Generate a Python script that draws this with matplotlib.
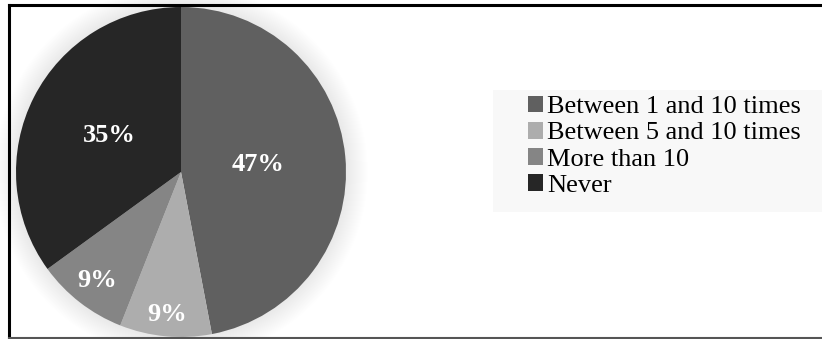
import numpy as np
import matplotlib.pyplot as plt
from matplotlib.patches import Circle, Rectangle

labels = ['Between 1 and 10 times', 'Between 5 and 10 times', 'More than 10', 'Never']
values = [47, 9, 9, 35]
colors = ['#606060', '#adadad', '#858585', '#262626']
label_r = [0.47, 0.87, 0.83, 0.49]

plt.rcParams['font.family'] = ['Liberation Serif', 'DejaVu Serif']

fig = plt.figure(figsize=(8.22, 3.39), dpi=100)
W, H = 822, 339

# pie axes: centre (181, 172) px, radius 165 px
R = 165
lim = 1.2
cx, cy = 181, 339 - 172
side = 2 * lim * R
ax = fig.add_axes([(cx - side / 2) / W, (cy - side / 2) / H, side / W, side / H])
ax.set_aspect('equal')
ax.axis('off')

# soft glow behind the pie
for i in range(22):
    ax.add_patch(Circle((0, 0), 1 + 0.006 * (i + 1), color='#000000', alpha=0.005, lw=0, zorder=0))

wedges, _ = ax.pie(values, colors=colors, startangle=90, counterclock=False,
                   radius=1, wedgeprops=dict(linewidth=0))
for w, v, r in zip(wedges, values, label_r):
    ang = np.deg2rad((w.theta1 + w.theta2) / 2)
    ax.text(r * np.cos(ang), r * np.sin(ang), f'{v}%', color='white', fontsize=19,
            fontweight='bold', ha='center', va='center')
ax.set_xlim(-lim, lim)
ax.set_ylim(-lim, lim)

# legend background
fig.patches.append(Rectangle((493 / W, 1 - 212 / H), (W - 493) / W, 122 / H,
                             transform=fig.transFigure, facecolor='#f8f8f8', edgecolor='none', zorder=0))
leg = fig.legend(wedges, labels, loc='upper left', bbox_to_anchor=(525 / W, 1 - 93 / H),
                 frameon=False, fontsize=19, handlelength=0.6, handleheight=0.6,
                 handletextpad=0.15, labelspacing=0.13, borderaxespad=0, borderpad=0.1)

# outer border (left, top, bottom)
fig.add_artist(plt.Line2D([9 / W, 9 / W], [1 - 5 / H, 1 - 338 / H], color='black', lw=2.2, transform=fig.transFigure))
fig.add_artist(plt.Line2D([9 / W, 1], [1 - 5 / H, 1 - 5 / H], color='black', lw=2.2, transform=fig.transFigure))
fig.add_artist(plt.Line2D([9 / W, 1], [1 - 338 / H, 1 - 338 / H], color='#555555', lw=1.5, transform=fig.transFigure))

fig.savefig('out.png', dpi=100)
